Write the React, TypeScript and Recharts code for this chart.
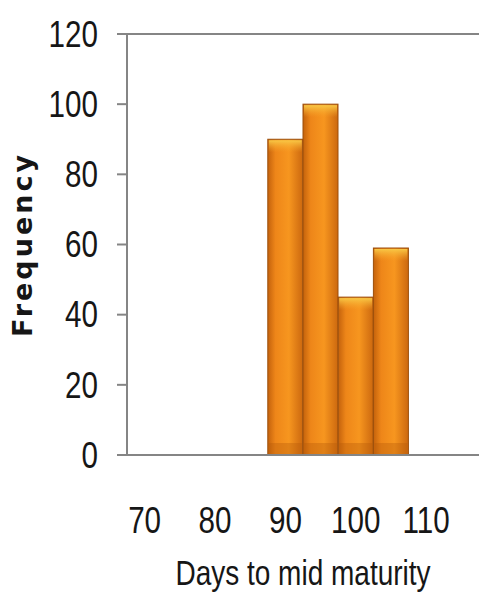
import { BarChart, Bar, XAxis, YAxis, ReferenceLine, Label } from 'recharts';

// 5-day bins centred on these day counts
const days = [70, 75, 80, 85, 90, 95, 100, 105, 110, 115];
const counts = [0, 0, 0, 0, 90, 100, 45, 59, 0, 0];
const yTicks = [0, 20, 40, 60, 80, 100, 120];

const data = days.map((d, i) => ({ day: d, count: counts[i] }));

const AXIS = '#858585';
const INK = '#161616';
const FONT = '"Liberation Sans", Arial, sans-serif';
// squeeze the sans glyphs horizontally to get a condensed look
const SQUEEZE = 0.8;

function OrangeBar(props: any) {
  const { x, y, width, height } = props;
  if (!height || height <= 0) return null;
  return (
    <g>
      <rect x={x} y={y} width={width} height={height} fill="url(#barBody)" stroke="#9c4f0b" strokeWidth={1} />
      <rect x={x + 1} y={y + 1} width={width - 2} height={Math.min(12, height - 2)} fill="url(#barTop)" />
      <rect x={x + 1} y={y + height - 12} width={width - 2} height={11} fill="#b5580a" opacity={0.35} />
    </g>
  );
}

function YTick(props: any) {
  const { x, y, payload } = props;
  return (
    <g transform={`translate(${x},${y})`}>
      <text
        transform={`scale(${SQUEEZE},1)`}
        textAnchor="end"
        dominantBaseline="central"
        fontFamily={FONT}
        fontSize={37}
        fill={INK}
      >
        {payload.value}
      </text>
    </g>
  );
}

function XTick(props: any) {
  const { x, y, payload } = props;
  return (
    <g transform={`translate(${x},${y})`}>
      <text
        transform={`scale(${SQUEEZE},1)`}
        textAnchor="middle"
        dy="0.71em"
        fontFamily={FONT}
        fontSize={37}
        fill={INK}
      >
        {payload.value}
      </text>
    </g>
  );
}

function DaysLabel(props: any) {
  const vb = props.viewBox || { x: 0, y: 0, width: 0, height: 0 };
  const cx = vb.x + vb.width / 2;
  const by = vb.y + vb.height - 12;
  return (
    <g transform={`translate(${cx},${by})`}>
      <text
        transform={`scale(${SQUEEZE},1)`}
        textAnchor="middle"
        fontFamily={FONT}
        fontSize={35}
        fill={INK}
      >
        Days to mid maturity
      </text>
    </g>
  );
}

function FrequencyLabel(props: any) {
  const vb = props.viewBox || { x: 0, y: 0, width: 0, height: 0 };
  const cx = vb.x + 22;
  const cy = vb.y + vb.height / 2;
  return (
    <text
      x={cx}
      y={cy}
      transform={`rotate(-90, ${cx}, ${cy})`}
      textAnchor="middle"
      dominantBaseline="central"
      fontFamily='"DejaVu Sans", Verdana, sans-serif'
      fontWeight="bold"
      fontSize={27}
      letterSpacing={3}
      fill={INK}
    >
      Frequency
    </text>
  );
}

export default function App() {
  return (
    <div style={{ width: 479, height: 597, background: '#fff' }}>
      <style>{'body{margin:0}'}</style>
      <BarChart
        width={479}
        height={597}
        data={data}
        barCategoryGap={0}
        margin={{ top: 34, right: 0, bottom: 0, left: 0 }}
      >
        <defs>
          <linearGradient id="barBody" x1="0" y1="0" x2="1" y2="0">
            <stop offset="0%" stopColor="#c4620c" />
            <stop offset="22%" stopColor="#ee8619" />
            <stop offset="60%" stopColor="#f7961f" />
            <stop offset="100%" stopColor="#cc680f" />
          </linearGradient>
          <linearGradient id="barTop" x1="0" y1="0" x2="0" y2="1">
            <stop offset="0%" stopColor="#f8c846" />
            <stop offset="100%" stopColor="#f7a52a" stopOpacity={0} />
          </linearGradient>
        </defs>
        <XAxis
          dataKey="day"
          interval={1}
          axisLine={{ stroke: AXIS, strokeWidth: 2 }}
          tickLine={false}
          tickSize={0}
          tickMargin={52}
          height={142}
          tick={XTick}
        >
          <Label content={DaysLabel} />
        </XAxis>
        <YAxis
          domain={[0, 120]}
          ticks={yTicks}
          width={127}
          axisLine={{ stroke: AXIS, strokeWidth: 2 }}
          tickLine={{ stroke: AXIS, strokeWidth: 2 }}
          tickSize={10}
          tickMargin={19}
          tick={YTick}
        >
          <Label content={FrequencyLabel} />
        </YAxis>
        <ReferenceLine y={120} stroke={AXIS} strokeWidth={2} />
        <Bar dataKey="count" shape={OrangeBar} isAnimationActive={false} />
      </BarChart>
    </div>
  );
}
